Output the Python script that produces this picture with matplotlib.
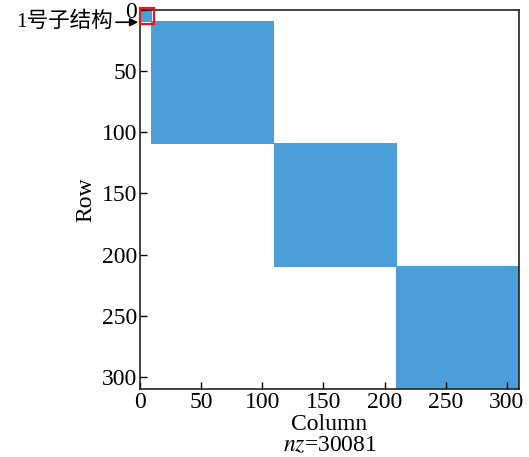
import numpy as np
import matplotlib
matplotlib.use("Agg")
import matplotlib.pyplot as plt
from matplotlib.patches import Rectangle

# Diagonal block sizes of the sparse matrix (1-based, MATLAB-style spy)
block_sizes = [9, 100, 100, 100]
nz_label = "30081"
x_ticks = [0, 50, 100, 150, 200, 250, 300]
y_ticks = [0, 50, 100, 150, 200, 250, 300]
annot_text = "1号子结构"

# Build nonzero coordinates from the blocks
rows, cols = [], []
start = 1
for b in block_sizes:
    idx = np.arange(start, start + b)
    r, c = np.meshgrid(idx, idx, indexing="ij")
    rows.append(r.ravel())
    cols.append(c.ravel())
    start += b
rows = np.concatenate(rows)
cols = np.concatenate(cols)
n = start - 1

serif = ["Liberation Serif", "Noto Sans CJK SC"]
plt.rcParams["font.family"] = serif
plt.rcParams["mathtext.fontset"] = "stix"

fs = 17

fig = plt.figure(figsize=(5.29, 4.57), dpi=100)
ax = fig.add_axes([0.2647, 0.1488, 0.7165, 0.8293])

ax.scatter(cols, rows, s=0.9, marker="s", c="#4c9ed8", linewidths=0)

ax.set_xlim(0, n + 1)
ax.set_ylim(n + 1, 0)
ax.set_xticks(x_ticks)
ax.set_yticks(y_ticks)
ax.tick_params(direction="in", length=5, width=1, labelsize=fs, pad=2,
               top=False, right=False)
for sp in ax.spines.values():
    sp.set_linewidth(1.2)
    sp.set_color("#222222")

ax.set_xlabel("Column\n$\\mathit{nz}$=" + nz_label, fontsize=fs, labelpad=1, linespacing=1.0)
ax.set_ylabel("Row", fontsize=fs, labelpad=4)

# Red box around the first substructure
ax.add_patch(Rectangle((0.0, -1.5), 11.5, 13, fill=False, edgecolor="#e0191e",
                       linewidth=1.6, clip_on=False, zorder=5))

ax.annotate(annot_text, xy=(-1.5, 10), xycoords="data",
            xytext=(-22, 10), textcoords="data",
            fontsize=15.5, va="center", ha="right", family=serif,
            arrowprops=dict(arrowstyle="-|>", color="black", lw=1.2,
                            mutation_scale=12, shrinkA=0, shrinkB=0),
            annotation_clip=False)

fig.savefig("out.png", dpi=100)
